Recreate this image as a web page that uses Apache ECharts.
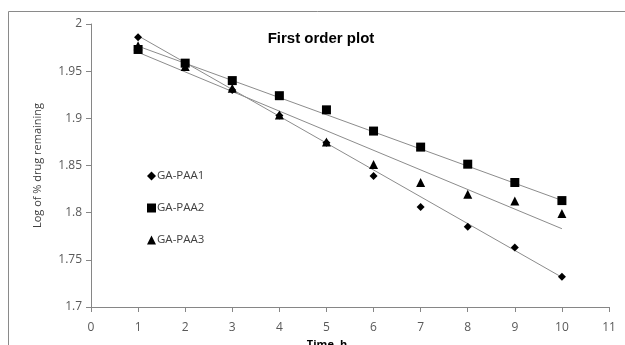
<!DOCTYPE html>
<html>
<head>
<meta charset="utf-8">
<script src="https://cdn.jsdelivr.net/npm/echarts@6/dist/echarts.min.js"></script>
<style>html,body{margin:0;padding:0;background:#fff;}#c{width:625px;height:345px;}</style>
</head>
<body>
<div id="c"></div>
<script>
var timeH = [1, 2, 3, 4, 5, 6, 7, 8, 9, 10];
var paa1 = [1.986, 1.958, 1.930, 1.903, 1.874, 1.839, 1.806, 1.785, 1.763, 1.732];
var paa2 = [1.973, 1.9585, 1.940, 1.924, 1.909, 1.8865, 1.8695, 1.8514, 1.832, 1.8128];
var paa3 = [1.977, 1.955, 1.932, 1.9035, 1.875, 1.851, 1.832, 1.8195, 1.8124, 1.799];
var trendX = [1, 10];
var trend1 = [1.9875, 1.7315];
var trend2 = [1.9765, 1.813];
var trend3 = [1.9700, 1.783];
var xTicks = [0, 1, 2, 3, 4, 5, 6, 7, 8, 9, 10, 11];
var yTicks = [1.7, 1.75, 1.8, 1.85, 1.9, 1.95, 2];

function pairs(xs, ys) { return xs.map(function (x, i) { return [x, ys[i]]; }); }

var chart = echarts.init(document.getElementById('c'), null, {renderer: 'canvas'});
var font = 'Open Sans, Liberation Sans, sans-serif';
var axisColor = '#868686';
function scatter(name, data, sym, size) {
  return {
    name: name, type: 'scatter', data: pairs(timeH, data), symbol: sym, symbolSize: size,
    itemStyle: {color: '#000', opacity: 1}, z: 3
  };
}
function trend(data) {
  return {
    type: 'line', data: pairs(trendX, data), symbol: 'none', silent: true,
    lineStyle: {color: '#8c8c8c', width: 1}, z: 2
  };
}
chart.setOption({
  animation: false,
  backgroundColor: '#fff',
  title: {
    text: 'First order plot', left: 316, top: 26, textAlign: 'center',
    textStyle: {fontFamily: 'Liberation Sans, Arial, sans-serif', fontSize: 15, fontWeight: 'bold', color: '#000'}
  },
  graphic: [{
    type: 'rect', shape: {x: 8.5, y: 11.5, width: 640, height: 360},
    style: {fill: 'none', stroke: '#8a8a8a', lineWidth: 1}, silent: true
  }],
  legend: {
    orient: 'vertical', left: 142, top: 165, itemGap: 20, itemWidth: 9, itemHeight: 9,
    itemStyle: {opacity: 1, color: '#000'},
    textStyle: {fontFamily: font, fontSize: 11.5, color: '#404040', padding: [0, 0, 0, -4]},
    data: [
      {name: 'GA-PAA1', icon: 'diamond'},
      {name: 'GA-PAA2', icon: 'rect'},
      {name: 'GA-PAA3', icon: 'triangle'}
    ]
  },
  grid: {left: 91, right: 16, top: 24, bottom: 38, containLabel: false, outerBoundsMode: 'none'},
  xAxis: {
    type: 'value', min: 0, max: 11, interval: 1,
    name: 'Time, h', nameLocation: 'middle', nameGap: 30,
    nameTextStyle: {fontFamily: font, fontSize: 11, fontWeight: 'bold', color: '#000', padding: [0, 46, 0, 0]},
    axisLine: {show: true, lineStyle: {color: axisColor}},
    axisTick: {show: true, length: 5, lineStyle: {color: axisColor}},
    axisLabel: {margin: 15, fontFamily: font, fontSize: 12, color: '#595959',
      formatter: function (v) { return xTicks.indexOf(v) >= 0 ? String(v) : ''; }},
    splitLine: {show: false}
  },
  yAxis: {
    type: 'value', min: 1.7, max: 2, interval: 0.05,
    name: 'Log of % drug remaining', nameLocation: 'middle', nameGap: 48,
    nameTextStyle: {fontFamily: font, fontSize: 11, color: '#404040'},
    axisLine: {show: true, lineStyle: {color: axisColor}},
    axisTick: {show: true, length: 5, lineStyle: {color: axisColor}},
    axisLabel: {margin: 9, fontFamily: font, fontSize: 12, color: '#595959',
      formatter: function (v) {
        var r = Math.round(v * 100) / 100;
        return yTicks.indexOf(r) >= 0 ? String(r) : '';
      }},
    splitLine: {show: false}
  },
  series: [
    trend(trend1), trend(trend2), trend(trend3),
    scatter('GA-PAA1', paa1, 'diamond', 8),
    scatter('GA-PAA2', paa2, 'rect', 9),
    scatter('GA-PAA3', paa3, 'triangle', 9)
  ]
});
</script>
</body>
</html>
